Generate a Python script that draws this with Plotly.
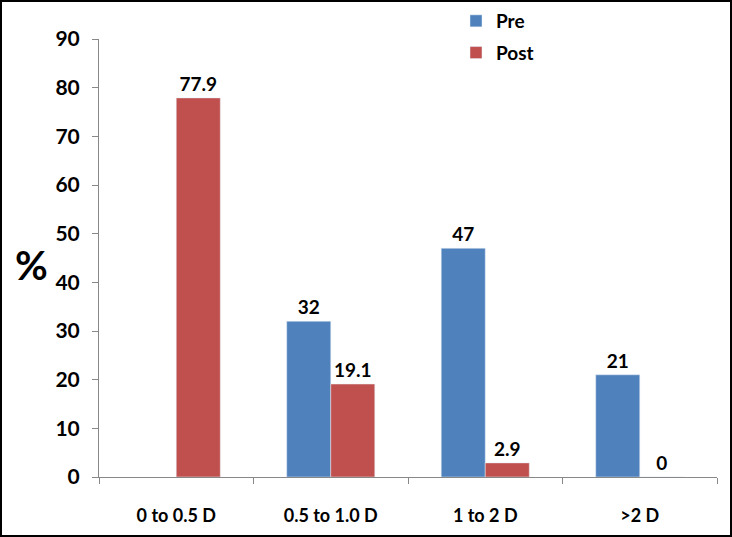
import plotly.graph_objects as go

categories = ["0 to 0.5 D", "0.5 to 1.0 D", "1 to 2 D", ">2 D"]
pre_values = [None, 32, 47, 21]
post_values = [77.9, 19.1, 2.9, 0]
y_ticks = [0, 10, 20, 30, 40, 50, 60, 70, 80, 90]

W, H = 732, 537
L, R, T, B = 99, 15, 39, 60
pw, ph = W - L - R, H - T - B

font_family = "Lato, 'Open Sans', sans-serif"

def labels(vals):
    return ["" if v is None else (str(int(v)) if float(v).is_integer() else str(v)) for v in vals]

fig = go.Figure()
fig.add_trace(go.Bar(
    name="Pre", x=categories, y=pre_values, marker_color="#4F81BD",
    text=labels(pre_values), textposition="outside", cliponaxis=False,
    textfont=dict(size=19, color="black", family=font_family, weight="bold"),
    legendgroup="pre",
))
fig.add_trace(go.Bar(
    name="Post", x=categories, y=post_values, marker_color="#C0504D",
    text=labels(post_values), textposition="outside", cliponaxis=False,
    textfont=dict(size=19, color="black", family=font_family, weight="bold"),
    legendgroup="post",
))

fig.update_layout(
    width=W, height=H,
    margin=dict(l=L, r=R, t=T, b=B, autoexpand=False),
    paper_bgcolor="white", plot_bgcolor="white",
    barmode="group", bargap=0.43, bargroupgap=0,
    font=dict(family=font_family, color="black", weight="bold"),
    showlegend=True,
    legend=dict(
        xref="container", yref="container",
        x=456 / W, y=1 - 2 / H, xanchor="left", yanchor="top",
        font=dict(size=19, family=font_family, weight="bold"),
        tracegroupgap=4, bgcolor="rgba(0,0,0,0)",
    ),
    xaxis=dict(
        showline=True, linecolor="#888888", linewidth=1, automargin=False,
        ticks="outside", tickson="boundaries", ticklen=6, tickcolor="#888888",
        tickfont=dict(size=18, family=font_family, weight="bold"),
        ticklabelstandoff=22, showgrid=False,
    ),
    yaxis=dict(
        range=[0, 90], tickvals=y_ticks, showline=True, linecolor="#888888", linewidth=1,
        ticks="outside", ticklen=6, tickcolor="#888888", automargin=False,
        tickfont=dict(size=21, family=font_family, weight="bold"),
        ticklabelstandoff=8, showgrid=False, zeroline=False,
    ),
    annotations=[dict(
        text="%", xref="paper", yref="paper", x=(31 - L) / pw, y=(H - B - 265) / ph,
        xanchor="center", yanchor="middle",
        showarrow=False, font=dict(size=40, family=font_family, weight="bold", color="black"),
    )],
    shapes=[dict(
        type="rect", xref="paper", yref="paper",
        x0=(1 - L) / pw, x1=(W - 1 - L) / pw,
        y0=(H - B - (H - 1)) / ph, y1=(H - B - 1) / ph,
        line=dict(color="black", width=2), fillcolor="rgba(0,0,0,0)", layer="above",
    )],
)

fig.write_html("out.html", config={"displayModeBar": False},
               post_script="document.body.style.margin='0';")
